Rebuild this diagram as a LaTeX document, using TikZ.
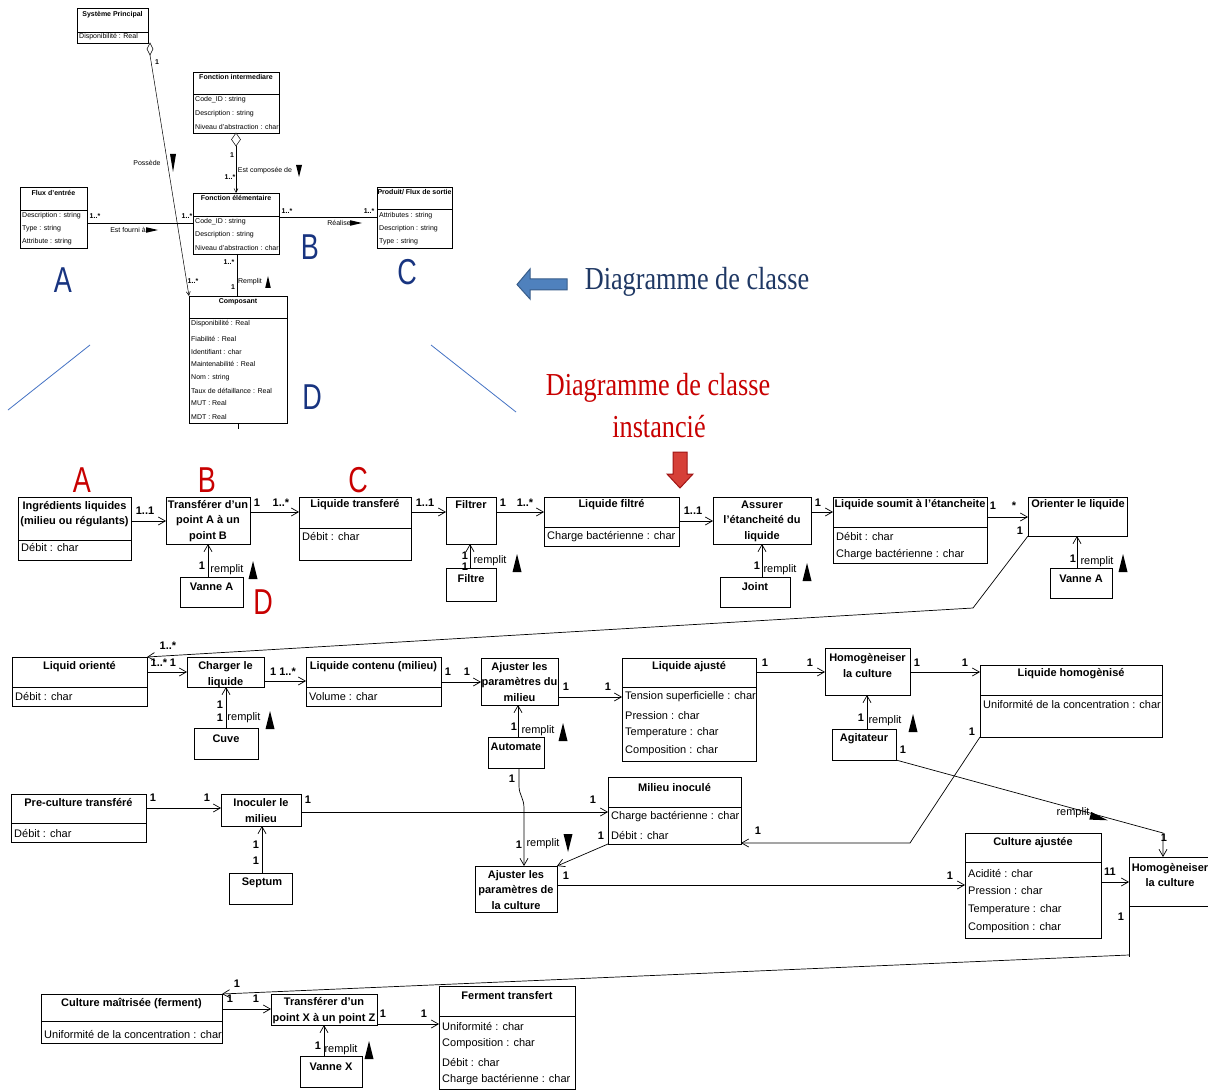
\documentclass[tikz,border=0pt]{standalone}
\usepackage{fontspec}
\setmainfont{Liberation Sans}
\newfontfamily\narrowsf[FakeStretch=0.75]{Liberation Sans}
\newfontfamily\serifcond[FakeStretch=0.82]{Liberation Serif}
\usetikzlibrary{arrows.meta}
\definecolor{navy}{RGB}{31,56,100}
\definecolor{letblue}{RGB}{24,52,128}
\definecolor{redt}{RGB}{200,0,0}
\definecolor{lineblue}{RGB}{68,114,196}
\definecolor{arrblue}{RGB}{79,129,189}
\definecolor{arrblueD}{RGB}{56,93,138}
\definecolor{arrred}{RGB}{214,64,56}
\definecolor{arrredD}{RGB}{160,20,20}
\newcounter{nc}
\newcommand\lbl[4][]{\stepcounter{nc}\node[#1] (l\arabic{nc}) at (#2,#3) {#4};}
\newcommand\bigbox[6]{\node[lbox, minimum width={(#4-#2)*1pt}, minimum height={(#5-#3)*1pt}] (#1) at (#2,#3) {};\draw[lline] (#2,#6) -- (#4,#6);}
\newcommand\plainbox[5]{\node[lbox, minimum width={(#4-#2)*1pt}, minimum height={(#5-#3)*1pt}] (#1) at (#2,#3) {};}
\newcommand\smallbox[6]{\node[sbox, minimum width={(#4-#2)*1pt}, minimum height={(#5-#3)*1pt}] (#1) at (#2,#3) {};\draw[sline] (#2,#6) -- (#4,#6);}
\newcommand\tU[2]{\fill (#1-4.5,#2+9) -- (#1,#2-9) -- (#1+4.5,#2+9) -- cycle;}
\newcommand\tD[2]{\fill (#1-4.5,#2-9) -- (#1,#2+9) -- (#1+4.5,#2-9) -- cycle;}
\newcommand\sU[2]{\fill (#1-2.8,#2+6) -- (#1,#2-6) -- (#1+2.8,#2+6) -- cycle;}
\newcommand\sD[3]{\fill (#1-3,#2-#3) -- (#1,#2+#3) -- (#1+3,#2-#3) -- cycle;}
\newcommand\sR[2]{\fill (#1-6,#2-2.8) -- (#1+6,#2) -- (#1-6,#2+2.8) -- cycle;}
\begin{document}
\begin{tikzpicture}[x=1pt,y=-1pt,
  lbox/.style={draw, line width=0.7pt, inner sep=0pt, outer sep=0pt, anchor=north west},
  lline/.style={line width=0.7pt},
  sbox/.style={draw, line width=0.5pt, inner sep=0pt, outer sep=0pt, anchor=north west},
  sline/.style={line width=0.5pt},
  arr/.style={line width=0.7pt, -{Straight Barb[length=7pt,width=8pt]}},
  sarr/.style={line width=0.5pt, -{Straight Barb[length=4pt,width=4pt]}},
  sconn/.style={line width=0.5pt},
  ttl/.style={font=\bfseries\fontsize{11}{15.5}\selectfont, align=center, inner sep=0pt, yshift=-2pt},
  att/.style={font=\fontsize{11}{12}\selectfont, anchor=west, inner sep=0pt},
  mul/.style={font=\bfseries\fontsize{11}{12}\selectfont, inner sep=0pt},
  rem/.style={font=\fontsize{11}{12}\selectfont, inner sep=0pt},
  sttl/.style={font=\bfseries\fontsize{7}{8}\selectfont, inner sep=0pt},
  satt/.style={font=\fontsize{7}{8}\selectfont, anchor=west, inner sep=0pt},
  slab/.style={font=\fontsize{7}{8}\selectfont, inner sep=0pt},
  smul/.style={font=\bfseries\fontsize{7}{8}\selectfont, inner sep=0pt},
  bigletter/.style={font=\narrowsf\fontsize{36}{36}\selectfont, inner sep=0pt},
  serift/.style={font=\serifcond\fontsize{32}{36}\selectfont, inner sep=0pt}]
\fill[white] (0,0) rectangle (1208,1091);
\useasboundingbox (0,0) rectangle (1208,1091);

% ================= top class diagram =================
\smallbox{sp}{77}{8}{148}{43}{32}
\lbl[sttl]{112.5}{15}{Système Principal}
\lbl[satt]{79}{37}{Disponibilité : Real}

\smallbox{fi}{193}{72}{279}{133}{94}
\lbl[sttl]{236}{77}{Fonction intermediare}
\lbl[satt]{195}{100}{Code\_ID : string}
\lbl[satt]{195}{114}{Description : string}
\lbl[satt]{195}{127}{Niveau d'abstraction : char}

\smallbox{fe}{193}{193}{279}{254}{216}
\lbl[sttl]{236}{198}{Fonction élémentaire}
\lbl[satt]{195}{222}{Code\_ID : string}
\lbl[satt]{195}{235}{Description : string}
\lbl[satt]{195}{248}{Niveau d'abstraction : char}

\smallbox{fx}{20}{187}{87}{248}{210}
\lbl[sttl]{53.5}{193}{Flux d'entrée}
\lbl[satt]{22}{216}{Description : string}
\lbl[satt]{22}{229}{Type : string}
\lbl[satt]{22}{242}{Attribute : string}

\smallbox{pr}{377}{187}{452}{248}{209}
\lbl[sttl]{414.5}{192}{Produit/ Flux de sortie}
\lbl[satt]{379}{216}{Attributes : string}
\lbl[satt]{379}{229}{Description : string}
\lbl[satt]{379}{242}{Type : string}

\smallbox{co}{189}{296}{287}{423}{318}
\lbl[sttl]{238}{302}{Composant}
\lbl[satt]{191}{324}{Disponibilité : Real}
\lbl[satt]{191}{339}{Fiabilité : Real}
\lbl[satt]{191}{352}{Identifiant : char}
\lbl[satt]{191}{364}{Maintenabilité : Real}
\lbl[satt]{191}{378}{Nom : string}
\lbl[satt]{191}{391}{Taux de défaillance : Real}
\lbl[satt]{191}{403}{MUT : Real}
\lbl[satt]{191}{417}{MDT : Real}
\draw[sconn] (co.south) -- ++(0,6);

% aggregations
\draw[sconn, fill=white] (150,43) -- (153,49) -- (150,55) -- (147,49) -- cycle;
\coordinate (spd) at (150,55);
\draw[sarr] (spd) -- (co.north west);
\lbl[smul]{157}{62}{1}
\lbl[slab]{147}{163}{Possède}
\sD{173}{163}{9}
\lbl[smul]{193}{281}{1..*}

\draw[sconn, fill=white] (236,133) -- (240.5,139.5) -- (236,146) -- (231.5,139.5) -- cycle;
\coordinate (fid) at (236,146);
\draw[sarr] (fid) -- (fe.north -| 236,0);
\lbl[smul]{232}{155}{1}
\lbl[slab]{265}{171}{Est composée de}
\sD{299}{171}{6}
\lbl[smul]{230}{177}{1..*}

\draw[sconn] (fx.east |- 0,223) -- (fe.west |- 0,223);
\lbl[smul]{95}{216}{1..*}
\lbl[smul]{187}{216}{1..*}
\lbl[slab]{128}{230}{Est fourni à}
\sR{152}{230}

\draw[sconn] (fe.east |- 0,217) -- (pr.west |- 0,217);
\lbl[smul]{287}{211}{1..*}
\lbl[smul]{369}{211}{1..*}
\lbl[slab]{339}{223}{Réalise}
\sR{356}{223}

\draw[sconn] (fe.south -| 237,0) -- (co.north -| 237,0);
\lbl[smul]{229}{262}{1..*}
\lbl[smul]{233}{287}{1}
\lbl[slab]{250}{282}{Remplit}
\sU{268}{282}

% blue letters and lines
\lbl[bigletter, text=letblue]{63}{280}{A}
\lbl[bigletter, text=letblue]{310}{247}{B}
\lbl[bigletter, text=letblue]{407}{272}{C}
\lbl[bigletter, text=letblue]{312}{397}{D}
\draw[lineblue, line width=0.8pt] (90,345) -- (8,410);
\draw[lineblue, line width=0.8pt] (431,345) -- (516,412);

% titles and block arrows
\filldraw[fill=arrblue, draw=arrblueD, line width=1pt] (567,279) -- (530,279) -- (530,269) -- (517,284.5) -- (530,299) -- (530,290) -- (567,290) -- cycle;
\lbl[serift, text=navy]{697}{282}{Diagramme de classe}
\lbl[serift, text=redt]{658}{388}{Diagramme de classe}
\lbl[serift, text=redt]{659}{427}{instancié}
\filldraw[fill=arrred, draw=arrredD, line width=1pt] (673,452) -- (687,452) -- (687,474) -- (693,474) -- (680,488) -- (667,474) -- (673,474) -- cycle;

% ================= instantiated diagram: row 1 =================
\lbl[bigletter, text=redt]{82}{480}{A}
\lbl[bigletter, text=redt]{207}{480}{B}
\lbl[bigletter, text=redt]{358}{480}{C}
\lbl[bigletter, text=redt]{263}{602}{D}

\bigbox{ingr}{18}{497}{131}{560}{540}
\lbl[ttl]{74.5}{512}{Ingrédients liquides\\(milieu ou régulants)}
\lbl[att]{21}{548}{Débit : char}

\plainbox{trAB}{166}{497}{250}{544}
\lbl[ttl]{208}{519}{Transférer d'un\\point A à un\\point B}

\bigbox{lt}{299}{497}{411}{560}{528}
\lbl[ttl]{355}{503}{Liquide transferé}
\lbl[att]{302}{537}{Débit : char}

\plainbox{filtrer}{446}{497}{496}{544}
\lbl[ttl]{471}{503}{Filtrer}

\bigbox{lf}{544}{497}{679}{546}{527}
\lbl[ttl]{611.5}{503}{Liquide filtré}
\lbl[att]{547}{537}{Charge bactérienne : char}

\plainbox{assur}{713}{497}{811}{544}
\lbl[ttl]{762}{519}{Assurer\\l'étancheité du\\liquide}

\bigbox{ls}{833}{497}{987}{563}{527}
\lbl[ttl]{910}{503}{Liquide soumit à l'étancheite}
\lbl[att]{836}{537}{Débit : char}
\lbl[att]{836}{555}{Charge bactérienne : char}

\plainbox{orient}{1028}{497}{1127}{536}
\lbl[ttl]{1078}{503}{Orienter le liquide}

\plainbox{vanA}{180}{577}{243}{607}
\lbl[ttl]{211.5}{585}{Vanne A}
\plainbox{filtre}{446}{568}{496}{601}
\lbl[ttl]{471}{577}{Filtre}
\plainbox{joint}{720}{577}{790}{607}
\lbl[ttl]{755}{585}{Joint}
\plainbox{vanAb}{1050}{568}{1112}{598}
\lbl[ttl]{1081}{577}{Vanne A}

\draw[arr] (ingr.east |- 0,521) -- (trAB.west |- 0,521);
\lbl[mul]{145}{511}{1..1}
\draw[arr] (trAB.east |- 0,512) -- (lt.west |- 0,512);
\lbl[mul]{257}{503}{1}
\lbl[mul]{281}{503}{1..*}
\draw[arr] (lt.east |- 0,512) -- (filtrer.west |- 0,512);
\lbl[mul]{425}{503}{1..1}
\draw[arr] (filtrer.east |- 0,512) -- (lf.west |- 0,512);
\lbl[mul]{503}{503}{1}
\lbl[mul]{525}{503}{1..*}
\draw[arr] (lf.east |- 0,521) -- (assur.west |- 0,521);
\lbl[mul]{693}{511}{1..1}
\draw[arr] (assur.east |- 0,512) -- (ls.west |- 0,512);
\lbl[mul]{818}{503}{1}
\draw[arr] (ls.east |- 0,517) -- (orient.west |- 0,517);
\lbl[mul]{993}{506}{1}
\lbl[mul]{1014}{506}{*}
\lbl[mul]{1020}{531}{1}

\draw[arr] (vanA.north -| 208,0) -- (trAB.south -| 208,0);
\lbl[mul]{202}{566}{1}
\lbl[rem]{227}{570}{remplit}
\tU{253}{570}
\draw[arr] (filtre.north -| 470,0) -- (filtrer.south -| 470,0);
\lbl[mul]{465}{556}{1}
\lbl[mul]{465}{567}{1}
\lbl[rem]{490}{561}{remplit}
\tU{517}{563}
\draw[arr] (joint.north -| 762,0) -- (assur.south -| 762,0);
\lbl[mul]{757}{566}{1}
\lbl[rem]{780}{570}{remplit}
\tU{807}{572}
\draw[arr] (vanAb.north -| 1077,0) -- (orient.south -| 1077,0);
\lbl[mul]{1073}{559}{1}
\lbl[rem]{1097}{562}{remplit}
\tU{1123}{563}

% ================= row 2 =================
\bigbox{lo}{12}{657}{147}{706}{687}
\lbl[ttl]{79.5}{665}{Liquid orienté}
\lbl[att]{15}{697}{Débit : char}
\plainbox{charg}{187}{657}{264}{687}
\lbl[ttl]{225.5}{672.5}{Charger le\\liquide}
\bigbox{lc}{306}{657}{441}{706}{687}
\lbl[ttl]{373.5}{665}{Liquide contenu (milieu)}
\lbl[att]{309}{697}{Volume : char}
\plainbox{cuve}{194}{728}{258}{759}
\lbl[ttl]{226}{737}{Cuve}
\plainbox{ajm}{481}{658}{558}{705}
\lbl[ttl]{519.5}{680}{Ajuster les\\paramètres du\\milieu}
\bigbox{la}{622}{658}{756}{761}{687}
\lbl[ttl]{689}{665}{Liquide ajusté}
\lbl[att]{625}{697}{Tension superficielle : char}
\lbl[att]{625}{716}{Pression : char}
\lbl[att]{625}{733}{Temperature : char}
\lbl[att]{625}{751}{Composition : char}
\plainbox{auto}{488}{737}{544}{768}
\lbl[ttl]{516}{745}{Automate}
\plainbox{homa}{825}{648}{910}{695}
\lbl[ttl]{867.5}{663.5}{Homogèneiser\\la culture}
\bigbox{lh}{980}{665}{1162}{737}{695}
\lbl[ttl]{1071}{672}{Liquide homogènisé}
\lbl[att]{983}{705}{Uniformité de la concentration : char}
\plainbox{agit}{832}{729}{896}{760}
\lbl[ttl]{864}{737}{Agitateur}

\draw[arr] (orient.south west) -- (973,608) -- (lo.north east);
\lbl[mul]{168}{646}{1..*}
\draw[arr] (lo.east |- 0,672) -- (charg.west |- 0,672);
\lbl[mul]{159}{663}{1..*}
\lbl[mul]{173}{663}{1}
\draw[arr] (charg.east |- 0,681) -- (lc.west |- 0,681);
\lbl[mul]{283}{672}{1 1..*}
\draw[arr] (cuve.north -| 226,0) -- (charg.south -| 226,0);
\lbl[mul]{220}{705}{1}
\lbl[mul]{220}{718}{1}
\lbl[rem]{244}{718}{remplit}
\tU{270}{720}
\draw[arr] (lc.east |- 0,682) -- (ajm.west |- 0,682);
\lbl[mul]{448}{672}{1}
\lbl[mul]{467}{672}{1}
\draw[arr] (ajm.east |- 0,697) -- (la.west |- 0,697);
\lbl[mul]{566}{687}{1}
\lbl[mul]{608}{687}{1}
\draw[arr] (auto.north -| 518,0) -- (ajm.south -| 518,0);
\lbl[mul]{514}{727}{1}
\lbl[rem]{538}{731}{remplit}
\tU{563}{732}
\draw[arr] (la.east |- 0,672) -- (homa.west |- 0,672);
\lbl[mul]{765}{663}{1}
\lbl[mul]{810}{663}{1}
\draw[arr] (homa.east |- 0,672) -- (lh.west |- 0,672);
\lbl[mul]{917}{663}{1}
\lbl[mul]{965}{663}{1}
\draw[arr] (agit.north -| 867,0) -- (homa.south -| 867,0);
\lbl[mul]{861}{718}{1}
\lbl[rem]{885}{721}{remplit}
\tU{913}{723}

% ================= row 3 =================
\bigbox{pre}{11}{794}{146}{842}{823}
\lbl[ttl]{78.5}{801}{Pre-culture transféré}
\lbl[att]{14}{833}{Débit : char}
\plainbox{inoc}{221}{794}{301}{826}
\lbl[ttl]{261}{808.5}{Inoculer le\\milieu}
\plainbox{sept}{229}{873}{292}{904}
\lbl[ttl]{262}{881}{Septum}
\bigbox{mi}{608}{777}{741}{844}{807}
\lbl[ttl]{674.5}{786}{Milieu inoculé}
\lbl[att]{611}{817}{Charge bactérienne : char}
\lbl[att]{611}{835}{Débit : char}
\plainbox{ajc}{475}{866}{557}{912}
\lbl[ttl]{516}{888}{Ajuster les\\paramètres de\\la culture}
\bigbox{ca}{965}{833}{1101}{938}{862}
\lbl[ttl]{1033}{841}{Culture ajustée}
\lbl[att]{968}{873}{Acidité : char}
\lbl[att]{968}{891}{Pression : char}
\lbl[att]{968}{910}{Temperature : char}
\lbl[att]{968}{928}{Composition : char}
\node[inner sep=0pt, outer sep=0pt, anchor=north west, minimum width=90pt, minimum height=100pt] (homb) at (1129,857) {};
\draw[lline] (1215,857) -- (1129,857) -- (1129,957);
\draw[lline] (1129,906) -- (1215,906);
\lbl[ttl]{1170}{873}{Homogèneiser\\la culture}

\draw[arr] (pre.east |- 0,808) -- (inoc.west |- 0,808);
\lbl[mul]{153}{798}{1}
\lbl[mul]{207}{798}{1}
\draw[arr] (sept.north -| 262,0) -- (inoc.south -| 262,0);
\lbl[mul]{256}{845}{1}
\lbl[mul]{256}{861}{1}
\draw[arr] (inoc.east |- 0,812) -- (mi.west |- 0,812);
\lbl[mul]{308}{800}{1}
\lbl[mul]{593}{800}{1}
\draw[arr] (auto.south -| 519,0) -- (519,786) .. controls (519,795) and (524,798) .. (524,808) -- (ajc.north -| 524,0);
\lbl[mul]{512}{779}{1}
\lbl[mul]{519}{845}{1}
\lbl[rem]{543}{844}{remplit}
\tD{568}{843}
\draw[arr] (mi.south west) -- (ajc.north east);
\lbl[mul]{601}{836}{1}
\lbl[mul]{566}{876}{1}
\draw[arr] (ajc.east |- 0,885) -- (ca.west |- 0,885);
\lbl[mul]{950}{876}{1}
\draw[arr] (ca.east |- 0,882) -- (homb.west |- 0,882);
\lbl[mul]{1110}{872}{11}
\lbl[mul]{1121}{917}{1}
\draw[arr] (lh.south west) -- (910,843) -- (mi.east |- 0,843);
\lbl[mul]{972}{732}{1}
\lbl[mul]{758}{831}{1}
\draw[arr] (agit.south east) -- (1163,833) -- (homb.north -| 1163,0);
\lbl[mul]{903}{750}{1}
\lbl[rem]{1073}{813}{remplit}
\fill (1107.7,820.3) -- (1089.3,819.6) -- (1091.3,811.9) -- cycle;
\lbl[mul]{1164}{838}{1}

% ================= row 4 =================
\bigbox{cm}{41}{994}{222}{1043}{1021}
\lbl[ttl]{131.5}{1002}{Culture maîtrisée (ferment)}
\lbl[att]{44}{1034}{Uniformité de la concentration : char}
\plainbox{tx}{271}{994}{377}{1025}
\lbl[ttl]{324}{1008.5}{Transférer d'un\\point X à un point Z}
\bigbox{ft}{439}{986}{575}{1089}{1016}
\lbl[ttl]{507}{994}{Ferment transfert}
\lbl[att]{442}{1026}{Uniformité : char}
\lbl[att]{442}{1044}{Composition : char}
\lbl[att]{442}{1062}{Débit : char}
\lbl[att]{442}{1080}{Charge bactérienne : char}
\plainbox{vx}{300}{1056}{362}{1087}
\lbl[ttl]{331}{1065}{Vanne X}

\draw[arr] (homb.west |- 0,955) -- (cm.north east);
\lbl[mul]{237}{984}{1}
\draw[arr] (cm.east |- 0,1009) -- (tx.west |- 0,1009);
\lbl[mul]{230}{999}{1}
\lbl[mul]{256}{999}{1}
\draw[arr] (tx.east |- 0,1024) -- (ft.west |- 0,1024);
\lbl[mul]{383}{1014}{1}
\lbl[mul]{424}{1014}{1}
\draw[arr] (vx.north -| 324,0) -- (tx.south -| 324,0);
\lbl[mul]{318}{1046}{1}
\lbl[rem]{341}{1050}{remplit}
\tU{369}{1050}
\end{tikzpicture}
\end{document}
